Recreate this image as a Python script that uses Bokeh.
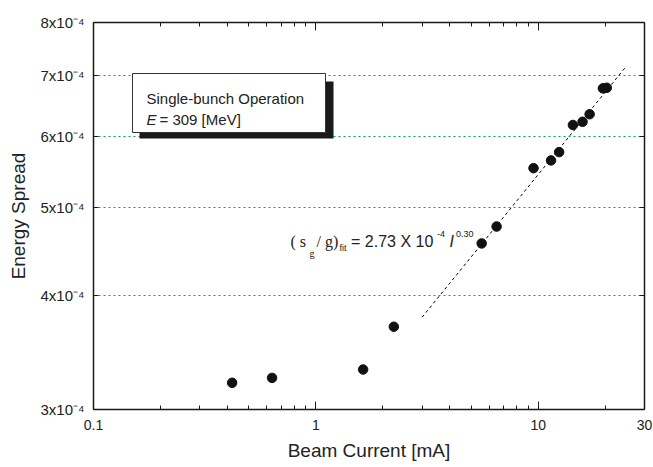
from bokeh.plotting import figure
from bokeh.models import (FixedTicker, LogAxis, Label, BoxAnnotation, Range1d,
                          CustomJSTickFormatter)
from bokeh.embed import file_html
from bokeh.resources import INLINE

# ---- data ----
current_ma = [0.42, 0.635, 1.63, 2.24, 5.56, 6.49, 9.51, 11.4, 12.4, 14.3, 15.8, 17.0, 19.5, 20.3]
energy_spread = [3.21e-4, 3.25e-4, 3.32e-4, 3.70e-4, 4.57e-4, 4.77e-4, 5.53e-4, 5.64e-4,
                 5.76e-4, 6.17e-4, 6.22e-4, 6.34e-4, 6.77e-4, 6.78e-4]
fit_current = [3.0, 24.5]
fit_spread = [3.79e-4, 7.13e-4]

x_ticks = [0.1, 1, 10, 30]
x_tick_labels = ["0.1", "1", "10", "30"]
x_minor_ticks = [0.2, 0.3, 0.4, 0.5, 0.6, 0.7, 0.8, 0.9, 2, 3, 4, 5, 6, 7, 8, 9, 20]
y_ticks = [3e-4, 4e-4, 5e-4, 6e-4, 7e-4, 8e-4]
y_tick_labels = ["3x10\u207b\u2074", "4x10\u207b\u2074", "5x10\u207b\u2074",
                 "6x10\u207b\u2074", "7x10\u207b\u2074", "8x10\u207b\u2074"]
grid_levels = [4e-4, 5e-4, 6e-4, 7e-4]

SANS = "Liberation Sans"
SERIF = "Liberation Serif"
INK = "#222222"

p = figure(x_axis_type="log", y_axis_type="log",
           x_range=Range1d(0.1, 30), y_range=Range1d(3e-4, 8e-4),
           frame_width=551, frame_height=387,
           min_border_left=93, min_border_top=22, min_border_right=8, min_border_bottom=0,
           output_backend="svg", toolbar_location=None,
           x_axis_label="Beam Current [mA]", y_axis_label="Energy Spread")
p.outline_line_color = None
p.background_fill_color = "white"
p.border_fill_color = "white"

xt = FixedTicker(ticks=x_ticks, minor_ticks=x_minor_ticks)
yt = FixedTicker(ticks=y_ticks, minor_ticks=[])

blank = CustomJSTickFormatter(code="return ''")
top_axis = LogAxis(ticker=xt, formatter=blank)
right_axis = LogAxis(ticker=yt, formatter=blank)
p.add_layout(top_axis, "above")
p.add_layout(right_axis, "right")

for ax in [p.below[0], top_axis]:
    ax.ticker = xt
    ax.major_tick_in = 8
    ax.minor_tick_in = 4
for ax in [p.left[0], right_axis]:
    ax.ticker = yt
    ax.major_tick_in = 5
    ax.minor_tick_in = 0
for ax in [p.below[0], p.left[0], top_axis, right_axis]:
    ax.axis_line_width = 1.5
    ax.axis_line_color = "#1a1a1a"
    ax.major_tick_line_color = "#1a1a1a"
    ax.minor_tick_line_color = "#1a1a1a"
    ax.major_tick_out = 0
    ax.minor_tick_out = 0
    ax.major_label_text_font = SANS
    ax.major_label_text_font_size = "14px"
    ax.major_label_text_color = INK
    ax.axis_label_text_font = SANS
    ax.axis_label_text_font_size = "19px"
    ax.axis_label_text_font_style = "normal"
    ax.axis_label_text_color = INK

for ax in [top_axis, right_axis]:
    ax.major_label_text_color = None
    ax.major_label_standoff = 0

xa = p.below[0]
xa.major_label_overrides = dict(zip(x_ticks, x_tick_labels))
xa.major_label_standoff = 10
xa.axis_label_standoff = 7

ya = p.left[0]
ya.major_label_overrides = dict(zip(y_ticks, y_tick_labels))
ya.major_label_text_font_size = "15px"
ya.major_label_standoff = 9
ya.axis_label_standoff = 9

p.xgrid.visible = False
p.ygrid.ticker = FixedTicker(ticks=grid_levels)
p.ygrid.grid_line_color = "#00aa44"
p.ygrid.grid_line_dash = "2 3"
p.ygrid.grid_line_width = 1

# fit line and data
p.line(fit_current, fit_spread, line_color="black", line_width=1, line_dash="3 3")
p.scatter(current_ma, energy_spread, size=9.5, color="#111111")

# text box with shadow (screen units, relative to frame bottom-left)
shadow = BoxAnnotation(left=46, right=240, bottom=271, top=328,
                       left_units="screen", right_units="screen",
                       bottom_units="screen", top_units="screen",
                       fill_color="#1a1a1a", fill_alpha=1.0, line_color=None)
box = BoxAnnotation(left=39, right=232, bottom=277, top=336,
                    left_units="screen", right_units="screen",
                    bottom_units="screen", top_units="screen",
                    fill_color="white", fill_alpha=1.0,
                    line_color="#333333", line_alpha=1.0, line_width=1)
p.add_layout(shadow)
p.add_layout(box)


def lab(x, y, text, size, font=SANS, style="normal", baseline="middle"):
    p.add_layout(Label(x=x, y=y, x_units="screen", y_units="screen", text=text,
                       text_font=font, text_font_size=size, text_font_style=style,
                       text_color=INK, text_baseline=baseline, text_align="left"))


lab(53, 310.7, "Single-bunch Operation", "15px", baseline="alphabetic")
lab(53, 289.7, "E", "15px", style="italic", baseline="alphabetic")
lab(66, 289.7, "= 309 [MeV]", "15px", baseline="alphabetic")

# fit equation
lab(197, 168, "( s", "16px", font=SERIF)
lab(216, 156, "g", "10px", font=SERIF)
lab(223, 168, "/ g)", "16px", font=SERIF)
lab(246, 162, "fit", "9px")
lab(257.5, 168, "= 2.73 X 10", "16px")
lab(343.5, 175.5, "-4", "9px")
lab(356, 168, "I", "16px", style="italic")
lab(362.5, 176, "0.30", "9px")

open("out.html", "w").write(file_html(p, INLINE))
